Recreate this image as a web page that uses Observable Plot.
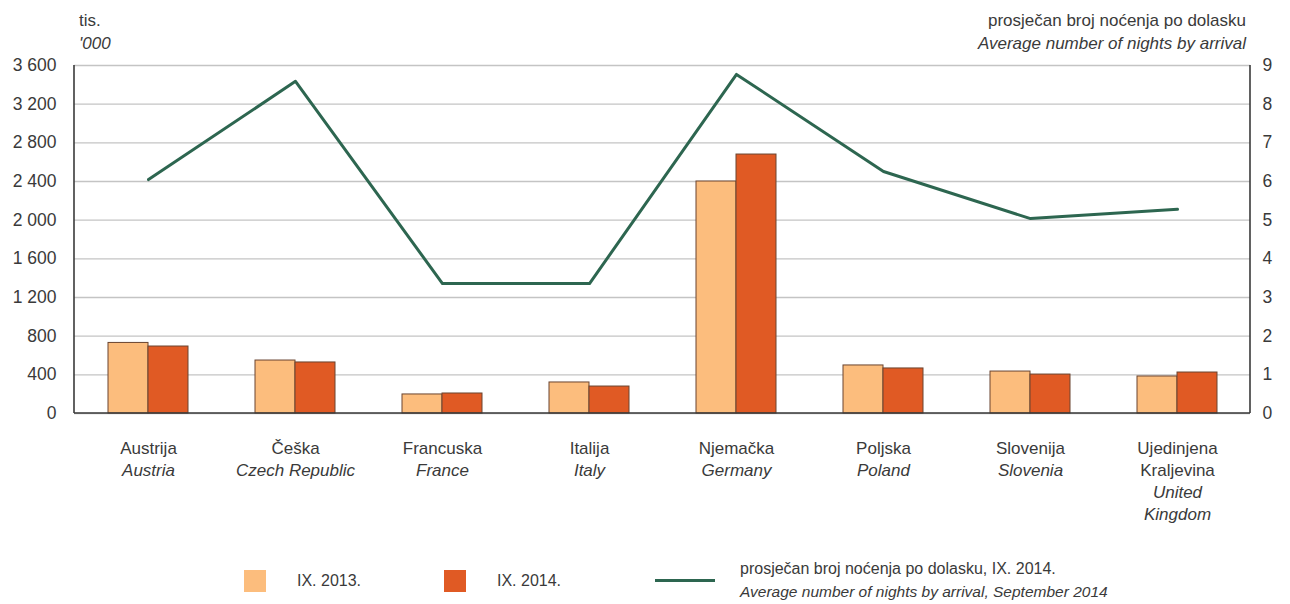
<!DOCTYPE html>
<html><head><meta charset="utf-8">
<script src="https://cdn.jsdelivr.net/npm/d3@7"></script>
<script src="https://cdn.jsdelivr.net/npm/@observablehq/plot@0.6"></script>
<style>
body{margin:0;background:#fff;font-family:"Liberation Sans",Arial,sans-serif;color:#3a3a3a}
#wrap{position:relative;width:1290px;height:604px;overflow:hidden}
.lbl{position:absolute;font-size:17px;line-height:23px;color:#3a3a3a;white-space:nowrap}
.lg{font-size:16px}
.sw{position:absolute;width:22px;height:22px}
</style></head><body>
<div id="wrap">
 <div id="chart"></div>
 <div class="lbl" style="left:79px;top:9px">tis.<br><i>'000</i></div>
 <div class="lbl" style="right:44px;top:9px;text-align:right">prosječan broj noćenja po dolasku<br><i>Average number of nights by arrival</i></div>
 <div id="legend"></div>
</div>
<script>
const countries = ["Austrija","Češka","Francuska","Italija","Njemačka","Poljska","Slovenija","Ujedinjena\nKraljevina"];
const countriesEn = ["Austria","Czech Republic","France","Italy","Germany","Poland","Slovenia","United\nKingdom"];
const nights2013 = [730,548,197,321,2400,497,434,383];
const nights2014 = [693,528,207,279,2679,466,403,424];
const avgNights = [6.05,8.59,3.36,3.36,8.77,6.26,5.04,5.28];
const yTicks = [0,400,800,1200,1600,2000,2400,2800,3200,3600];
const nightTicks = [0,1,2,3,4,5,6,7,8,9];
const seriesLabels = ["IX. 2013.","IX. 2014."];
const lineLabel = ["prosječan broj noćenja po dolasku, IX. 2014.","Average number of nights by arrival, September 2014"];

const c2013 = "#fcbd7d", c2014 = "#e05a24", cLine = "#2d6650", cEdge = "#6a4430";
const yMax = yTicks[yTicks.length-1];
const k = yMax / nightTicks[nightTicks.length-1];

const data = countries.map((c,i)=>({country:c, en:countriesEn[i], v2013:nights2013[i], v2014:nights2014[i], avg:avgNights[i]*k,
  enText: "\n".repeat(c.split("\n").length) + countriesEn[i]}));

const fmt = d => d3.format(",")(d).replace(/,/g," ");
const bw = 40;

const frameLines = (index, scales, values, dims) => {
  const g = d3.create("svg:g").attr("stroke","#3a3a3a").attr("stroke-width",1.6);
  const l = dims.marginLeft, r = dims.width - dims.marginRight;
  const t = scales.y(yMax), b = scales.y(0);
  g.append("line").attr("x1",l).attr("x2",l).attr("y1",t).attr("y2",b);
  g.append("line").attr("x1",r).attr("x2",r).attr("y1",t).attr("y2",b);
  g.append("line").attr("x1",l).attr("x2",r).attr("y1",b).attr("y2",b);
  return g.node();
};

const chart = Plot.plot({
  width: 1290, height: 545,
  marginLeft: 74, marginRight: 40, marginTop: 65, marginBottom: 132,
  style: {fontFamily: '"Liberation Sans", Arial, sans-serif', fontSize: "17px", color: "#3a3a3a", background: "#fff"},
  x: {domain: countries, paddingInner: 1 - bw/147, paddingOuter: (1 - bw/147)/2, axis: null},
  y: {domain: [0, yMax], axis: null},
  marks: [
    Plot.gridY(yTicks, {stroke: "#c4c4c4", strokeOpacity: 1, strokeWidth: 1.3}),
    Plot.barY(data, {x: "country", y: "v2013", dx: -bw/2, fill: c2013, stroke: cEdge, strokeWidth: 1}),
    Plot.barY(data, {x: "country", y: "v2014", dx: bw/2, fill: c2014, stroke: cEdge, strokeWidth: 1}),
    Plot.line(data, {x: "country", y: "avg", stroke: cLine, strokeWidth: 3}),
    frameLines,
    Plot.axisY(yTicks, {anchor: "left", tickSize: 0, tickPadding: 18, tickFormat: fmt, fontSize: 17.5}),
    Plot.axisY(yTicks, {anchor: "right", tickSize: 0, tickPadding: 12, tickFormat: d => fmt(d/k), fontSize: 17.5}),
    Plot.text(data, {x: "country", text: "country", frameAnchor: "bottom", lineAnchor: "top", dy: 25, lineHeight: 1.3, fontSize: 17, fill: "#3a3a3a"}),
    Plot.text(data, {x: "country", text: "enText", frameAnchor: "bottom", lineAnchor: "top", dy: 25, lineHeight: 1.3, fontSize: 17, fontStyle: "italic", fill: "#3a3a3a"})
  ]
});
document.getElementById("chart").appendChild(chart);

const lg = document.getElementById("legend");
lg.innerHTML = `
 <div class="sw" style="left:244px;top:570px;background:${c2013}"></div>
 <div class="lbl lg" style="left:297px;top:569px">${seriesLabels[0]}</div>
 <div class="sw" style="left:444px;top:570px;background:${c2014}"></div>
 <div class="lbl lg" style="left:497px;top:569px">${seriesLabels[1]}</div>
 <div style="position:absolute;left:655px;top:579px;width:60px;height:3px;background:${cLine}"></div>
 <div class="lbl lg" style="left:740px;top:557px">${lineLabel[0]}<br><i style="font-size:15.5px">${lineLabel[1]}</i></div>`;
</script>
</body></html>
